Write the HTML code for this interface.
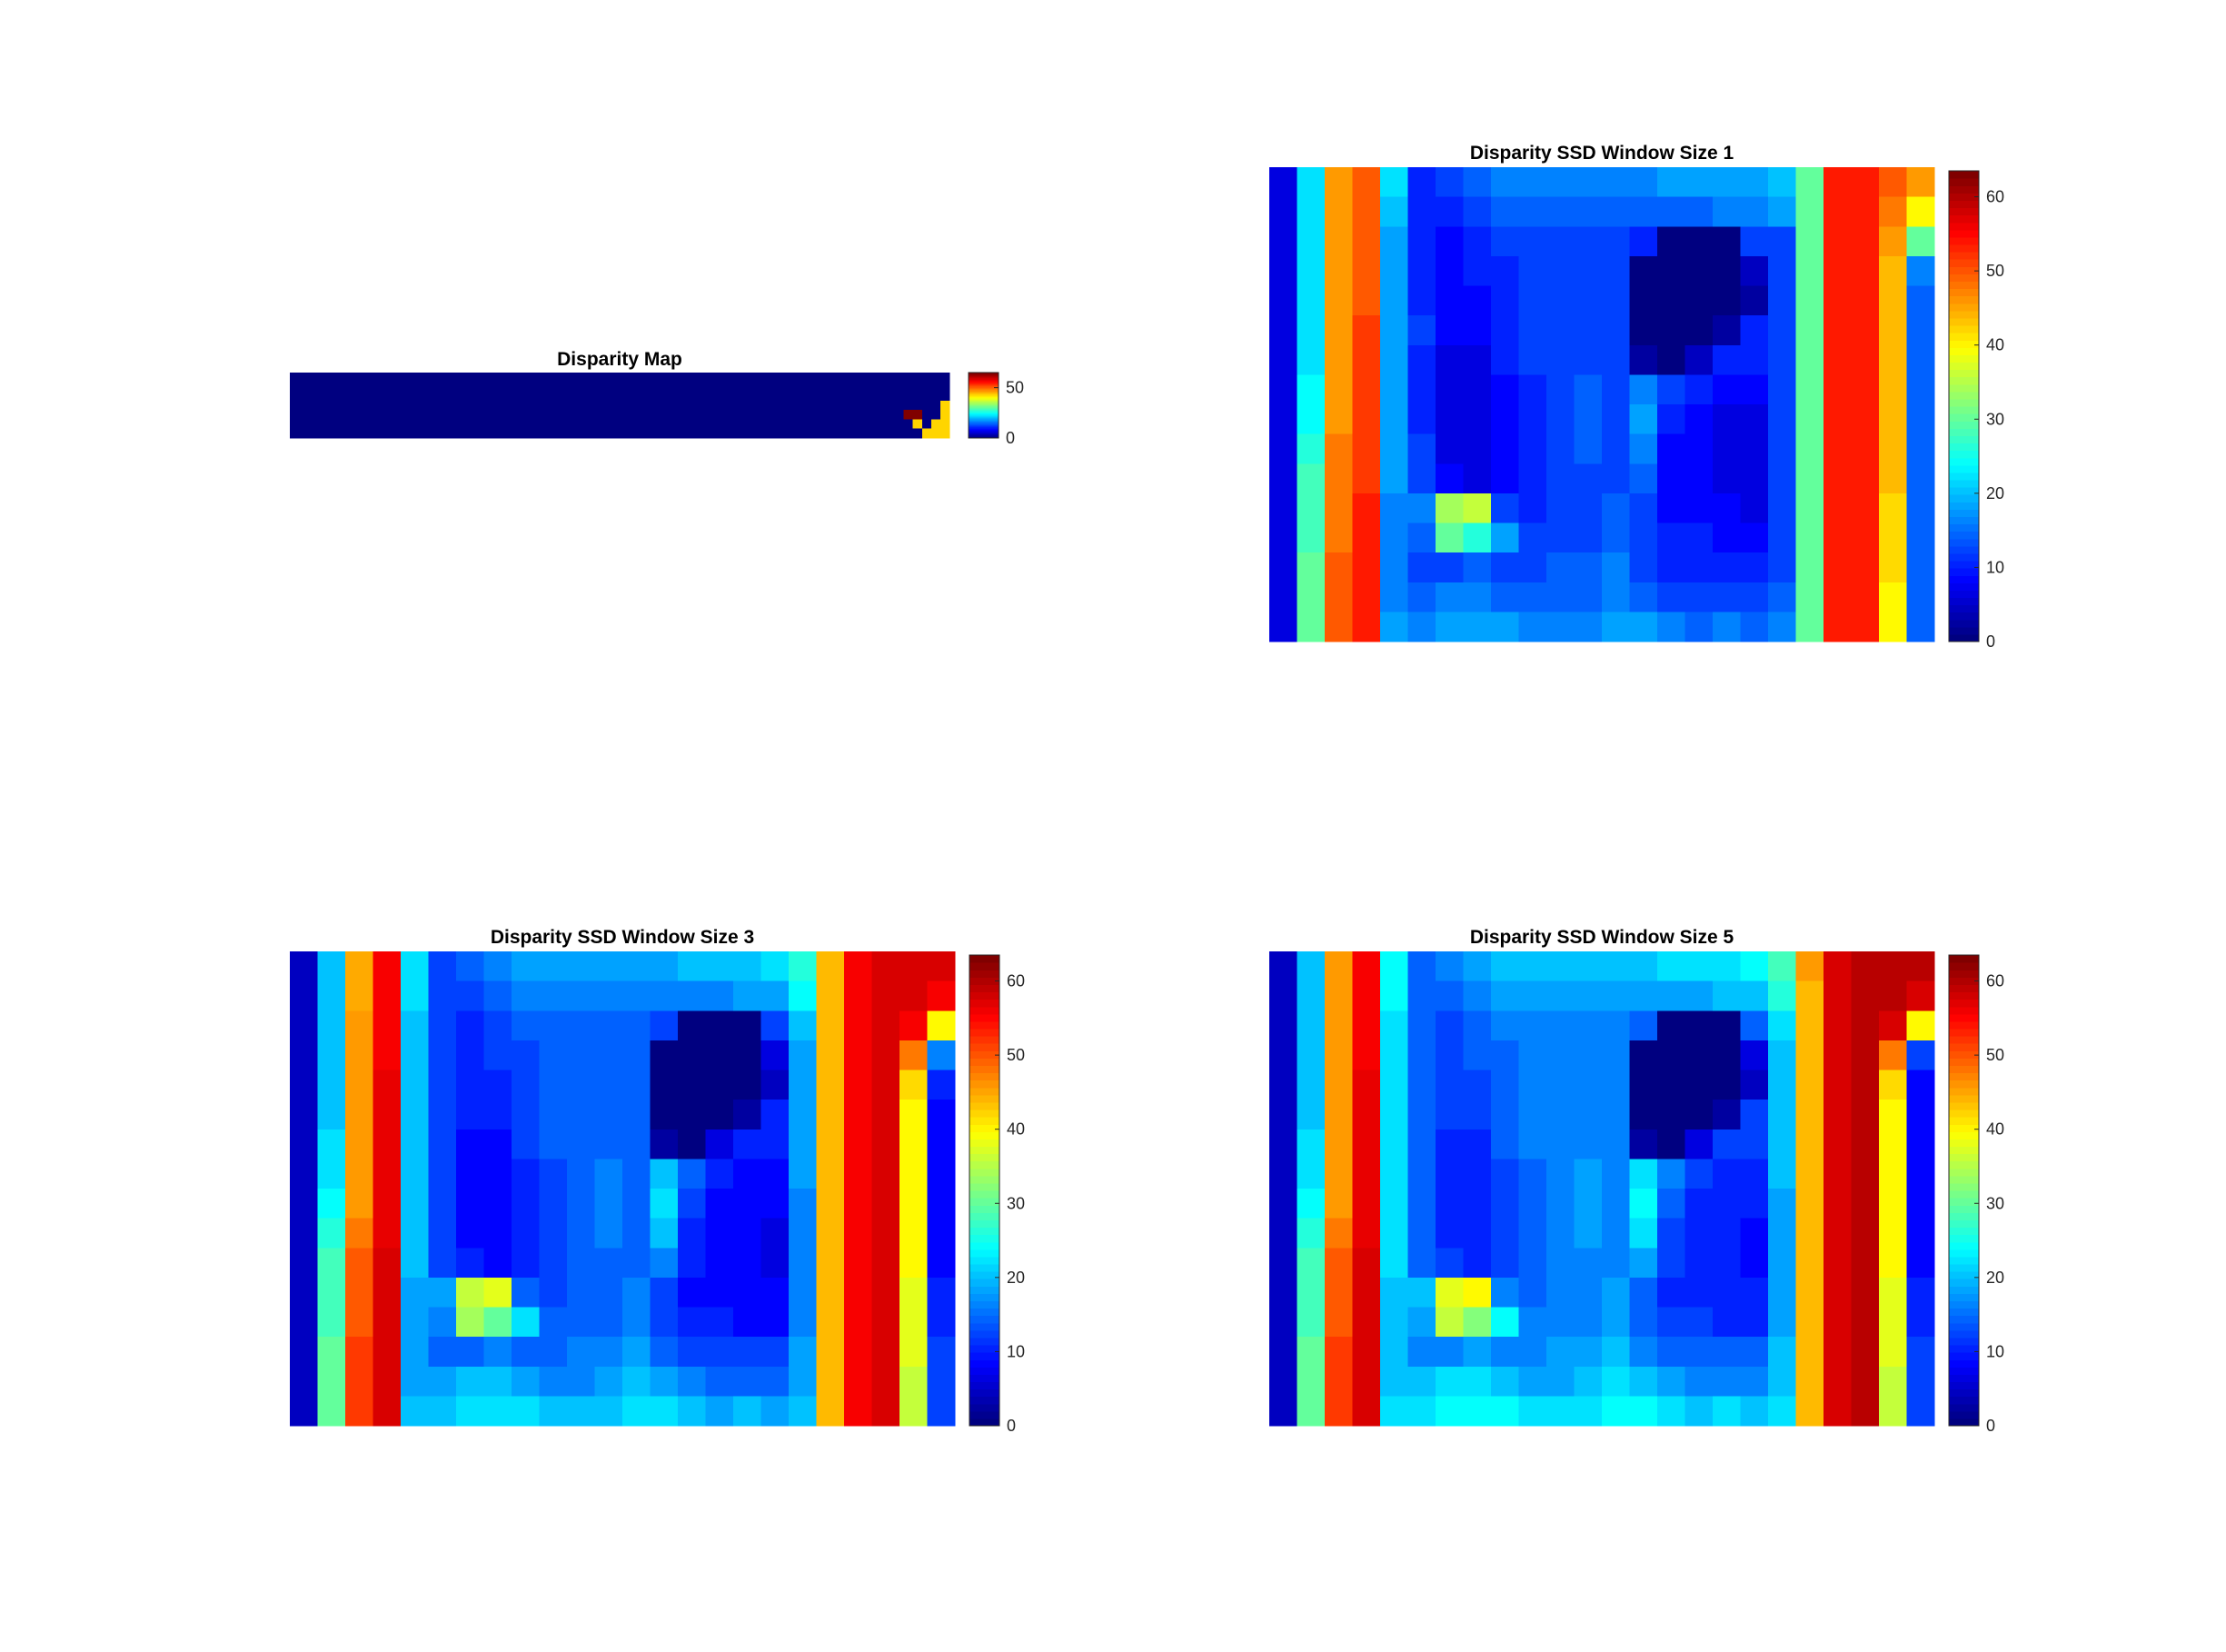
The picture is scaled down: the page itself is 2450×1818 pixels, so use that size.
<!DOCTYPE html>
<html><head><meta charset="utf-8"><style>
html,body{margin:0;padding:0;background:#fff;}
svg{display:block;font-family:"Liberation Sans",Arial,sans-serif;}
</style></head><body>
<svg id="fig" width="2450" height="1818" viewBox="0 0 2450 1818">
<rect x="0" y="0" width="2450" height="1818" fill="#fff"/>
</svg>
<script>
// ---- data ----
const mapRows = 7, mapCols = 72;
// sparse non-zero cells of the small disparity map: [row, col, value]
const mapCells = [[4,67,63],[4,68,63],[5,68,42],[6,69,42],[5,70,42],[6,70,42],[3,71,42],[4,71,42],[5,71,42],[6,71,42]];
const mapTicks = [0, 50];
const mapMax = 63;

const w1 = [
[6,22,46,50,22,10,12,14,16,16,16,16,16,16,18,18,18,18,20,30,54,54,50,46],
[6,22,46,50,20,10,10,12,14,14,14,14,14,14,14,14,16,16,18,30,54,54,48,40],
[6,22,46,50,18,10,8,10,12,12,12,12,12,10,0,0,0,12,12,30,54,54,46,30],
[6,22,46,50,18,10,8,10,10,12,12,12,12,0,0,0,0,4,12,30,54,54,44,16],
[6,22,46,50,18,10,8,8,10,12,12,12,12,0,0,0,0,2,12,30,54,54,44,14],
[6,22,46,52,18,12,8,8,10,12,12,12,12,0,0,0,2,10,12,30,54,54,44,14],
[6,22,46,52,18,10,6,6,10,12,12,12,12,2,0,4,10,10,12,30,54,54,44,14],
[6,24,46,52,18,10,6,6,8,10,12,14,12,16,12,10,8,8,12,30,54,54,44,14],
[6,24,46,52,18,10,6,6,8,10,12,14,12,18,10,8,6,6,12,30,54,54,44,14],
[6,26,48,52,18,12,6,6,8,10,12,14,12,16,8,8,6,6,12,30,54,54,44,14],
[6,28,48,52,18,12,8,6,8,10,12,12,12,14,8,8,6,6,12,30,54,54,44,14],
[6,28,48,54,16,16,34,36,12,10,12,12,14,12,8,8,8,6,12,30,54,54,42,14],
[6,28,48,54,16,14,30,26,18,12,12,12,14,12,10,10,8,8,12,30,54,54,42,14],
[6,30,50,54,16,12,12,14,12,12,14,14,16,12,10,10,10,10,12,30,54,54,42,14],
[6,30,50,54,16,14,16,16,14,14,14,14,16,14,12,12,12,12,14,30,54,54,40,14],
[6,30,50,54,18,16,18,18,18,16,16,16,18,18,16,14,16,14,16,30,54,54,40,14]];

const w3 = [
[4,20,45,56,22,12,14,16,18,18,18,18,18,18,20,20,20,22,26,44,56,58,58,58],
[4,20,45,56,22,12,12,14,16,16,16,16,16,16,16,16,18,18,24,44,56,58,58,56],
[4,20,46,56,20,12,10,12,14,14,14,14,14,12,0,0,0,12,20,44,56,58,56,40],
[4,20,46,56,20,12,10,12,12,14,14,14,14,0,0,0,0,6,18,44,56,58,48,16],
[4,20,46,57,20,12,10,10,12,14,14,14,14,0,0,0,0,4,18,44,56,58,42,10],
[4,20,46,57,20,12,10,10,12,14,14,14,14,0,0,0,2,10,18,44,56,58,40,8],
[4,22,46,57,20,12,8,8,12,14,14,14,14,2,0,6,10,10,18,44,56,58,40,8],
[4,22,46,57,20,12,8,8,10,12,14,16,14,20,14,10,8,8,18,44,56,58,40,8],
[4,24,46,57,20,12,8,8,10,12,14,16,14,22,12,8,8,8,16,44,56,58,40,8],
[4,26,48,57,20,12,8,8,10,12,14,16,14,20,10,8,8,6,16,44,56,58,40,8],
[4,28,50,58,20,12,10,8,10,12,14,14,14,16,10,8,8,6,16,44,56,58,40,8],
[4,28,50,58,18,18,36,38,14,12,14,14,16,12,8,8,8,8,16,44,56,58,38,10],
[4,28,50,58,18,16,34,30,22,14,14,14,16,12,10,10,8,8,16,44,56,58,38,10],
[4,30,52,58,18,14,14,16,14,14,16,16,18,14,12,12,12,12,18,44,56,58,38,12],
[4,30,52,58,18,18,20,20,18,16,16,18,20,18,16,14,14,14,18,44,56,58,36,12],
[4,30,52,58,20,20,22,22,22,20,20,20,22,22,20,18,20,18,20,44,56,58,36,12]];

const w5 = [
[4,20,46,56,24,14,16,18,20,20,20,20,20,20,22,22,22,24,28,46,58,60,60,60],
[4,20,46,56,24,14,14,16,18,18,18,18,18,18,18,18,20,20,26,44,58,60,60,58],
[4,20,46,56,22,14,12,14,16,16,16,16,16,14,0,0,0,14,22,44,58,60,58,40],
[4,20,46,56,22,14,12,14,14,16,16,16,16,0,0,0,0,6,20,44,58,60,48,12],
[4,20,46,57,22,14,12,12,14,16,16,16,16,0,0,0,0,4,20,44,58,60,42,8],
[4,20,46,57,22,14,12,12,14,16,16,16,16,0,0,0,2,12,20,44,58,60,40,8],
[4,22,46,57,22,14,10,10,14,16,16,16,16,2,0,6,12,12,20,44,58,60,40,8],
[4,22,46,57,22,14,10,10,12,14,16,18,16,22,16,12,10,10,20,44,58,60,40,8],
[4,24,46,57,22,14,10,10,12,14,16,18,16,24,14,10,10,10,18,44,58,60,40,8],
[4,26,48,57,22,14,10,10,12,14,16,18,16,22,12,10,10,8,18,44,58,60,40,8],
[4,28,50,58,22,14,12,10,12,14,16,16,16,18,12,10,10,8,18,44,58,60,40,8],
[4,28,50,58,20,20,38,40,16,14,16,16,18,14,10,10,10,10,18,44,58,60,38,10],
[4,28,50,58,20,18,36,32,24,16,16,16,18,14,12,12,10,10,18,44,58,60,38,10],
[4,30,52,58,20,16,16,18,16,16,18,18,20,16,14,14,14,14,20,44,58,60,38,12],
[4,30,52,58,20,20,22,22,20,18,18,20,22,20,18,16,16,16,20,44,58,60,36,12],
[4,30,52,58,22,22,24,24,24,22,22,22,24,24,22,20,22,20,22,44,58,60,36,12]];

const bigTicks = [0, 10, 20, 30, 40, 50, 60];
const bigMax = 63.5;
const titles = ["Disparity Map", "Disparity SSD Window Size 1", "Disparity SSD Window Size 3", "Disparity SSD Window Size 5"];

// ---- rendering ----
const NS = "http://www.w3.org/2000/svg";
const svg = document.getElementById("fig");
function mk(tag, attrs, parent) {
  const e = document.createElementNS(NS, tag);
  for (const k in attrs) e.setAttribute(k, attrs[k]);
  (parent || svg).appendChild(e);
  return e;
}
function jet(t) {
  t = Math.max(0, Math.min(1, t));
  const c = v => Math.round(255 * Math.max(0, Math.min(1, v)));
  const r = 1.5 - Math.abs(4 * t - 3), g = 1.5 - Math.abs(4 * t - 2), b = 1.5 - Math.abs(4 * t - 1);
  return "rgb(" + c(r) + "," + c(g) + "," + c(b) + ")";
}
function drawGrid(name, grid, nr, nc, x0, y0, w, h, vmax) {
  const g = mk("g", {"shape-rendering": "crispEdges"});
  
  
  const cw = w / nc, ch = h / nr;
  for (let r = 0; r < nr; r++) for (let c = 0; c < nc; c++) {
    const v = grid(r, c);
    const x = x0 + c * cw, y = y0 + r * ch;
    const cell = mk("rect", {x: x.toFixed(2), y: y.toFixed(2), width: (cw + 0.6).toFixed(2), height: (ch + 0.6).toFixed(2), fill: jet(v / vmax)}, g);
    
    
  }
}
function drawColorbar(name, x0, y0, w, h, vmax, ticks) {
  const g = mk("g", {});
  
  
  const n = 64;
  for (let i = 0; i < n; i++) {
    const y = y0 + h - (i + 1) * h / n;
    mk("rect", {x: x0, y: y.toFixed(2), width: w, height: (h / n + 0.6).toFixed(2), fill: jet(i / (n - 1)), "shape-rendering": "crispEdges"}, g);
  }
  mk("rect", {x: x0, y: y0, width: w, height: h, fill: "none", stroke: "#262626", "stroke-width": 1}, g);
  ticks.forEach(t => {
    const y = y0 + h - t / vmax * h;
    mk("line", {x1: x0 + w - 5, x2: x0 + w, y1: y, y2: y, stroke: "#262626", "stroke-width": 1}, g);
    const lab = mk("text", {x: x0 + w + 8, y: y + 6, "font-size": 18, fill: "#262626"}, g);
    lab.textContent = t;
    
    
  });
}
function title(txt, cx, y, nm) {
  const t = mk("text", {x: cx, y: y, "font-size": 21, "font-weight": "bold", "text-anchor": "middle", fill: "#000"});
  t.textContent = txt;
  
  
}

// panel 1: small disparity map
const mapLookup = {};
mapCells.forEach(([r, c, v]) => { mapLookup[r + "," + c] = v; });
drawGrid("disparity-map-image", (r, c) => mapLookup[r + "," + c] || 0, mapRows, mapCols, 319, 410, 726, 72, mapMax);
drawColorbar("disparity-map-colorbar", 1066, 410, 33, 72, 65, mapTicks);
title(titles[0], 682, 402, "disparity-map-title");

// panels 2-4
const big = [[w1, 1397, 184, "ssd-window-1"], [w3, 319, 1047, "ssd-window-3"], [w5, 1397, 1047, "ssd-window-5"]];
big.forEach(([data, x, y, nm], i) => {
  drawGrid(nm + "-image", (r, c) => data[r][c], data.length, data[0].length, x, y, 732, 522, bigMax);
  drawColorbar(nm + "-colorbar", x + 748, y + 4, 33, 518, bigMax, bigTicks);
  title(titles[i + 1], x + 366, y - 9, nm + "-title");
});
</script>
</body></html>
